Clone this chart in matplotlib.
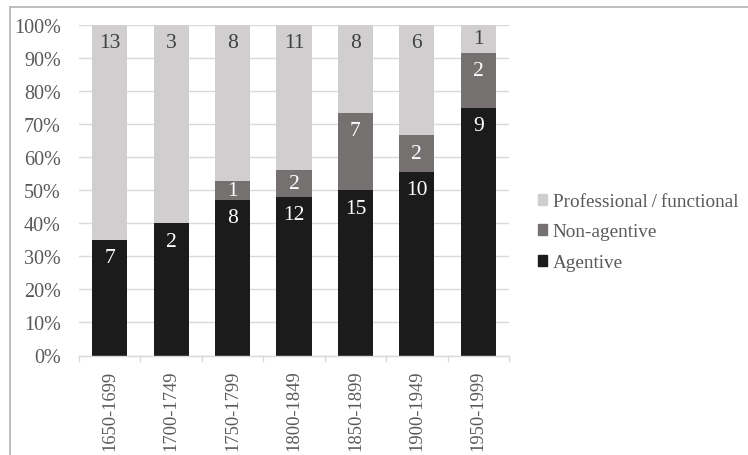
import matplotlib
matplotlib.use("Agg")
import matplotlib.pyplot as plt
import numpy as np
from matplotlib.patches import Rectangle
from matplotlib.lines import Line2D

plt.rcParams['font.family'] = ['Liberation Serif', 'DejaVu Serif']

periods = ["1650-1699", "1700-1749", "1750-1799", "1800-1849",
           "1850-1899", "1900-1949", "1950-1999"]
agentive = [7, 2, 8, 12, 15, 10, 9]
non_agentive = [0, 0, 1, 2, 7, 2, 2]
professional = [13, 3, 8, 11, 8, 6, 1]

series = [
    ("Agentive", agentive, "#1b1b1b", "white"),
    ("Non-agentive", non_agentive, "#767171", "white"),
    ("Professional\u2009/\u2009functional", professional, "#d0cece", "#404040"),
]

totals = np.array(agentive) + np.array(non_agentive) + np.array(professional)

fig = plt.figure(figsize=(7.48, 4.56), dpi=100)
ax = fig.add_axes([79 / 748, 1 - 356.5 / 456, 430 / 748, 330.5 / 456])

x = np.arange(len(periods))
bottom = np.zeros(len(periods))
handles = []
for name, vals, color, tcolor in series:
    share = np.array(vals) / totals
    ax.bar(x, share, bottom=bottom, width=0.57, color=color, zorder=2)
    for xi, v, s, b in zip(x, vals, share, bottom):
        if v > 0:
            # inside-end label, centred when the segment is too short
            ycen = b + s - min(0.054, s / 2)
            ax.text(xi, ycen, str(v), ha="center", va="center",
                    color=tcolor, fontsize=15.5, zorder=3)
    bottom = bottom + share
    handles.append(Rectangle((0, 0), 1, 1, color=color))

ax.set_xlim(-0.5, len(periods) - 0.5)
ax.set_ylim(0, 1.0)
ax.set_yticks(np.arange(0, 1.01, 0.1))
ax.set_yticklabels([f"{int(round(t * 100))}%" for t in np.arange(0, 1.01, 0.1)])
ax.yaxis.grid(True, color="#d9d9d9", linewidth=1, zorder=0)
ax.tick_params(axis="y", length=0, labelsize=14.5, labelcolor="#595959", pad=13)

ax.set_xticks(x)
ax.set_xticklabels(periods, rotation=90, fontsize=13.3, color="#595959")
ax.tick_params(axis="x", length=0, pad=10)
for b in np.arange(-0.5, len(periods), 1.0):
    ax.plot([b, b], [0, -0.016], color="#d9d9d9", lw=1, clip_on=False, zorder=1)

for s in ["top", "right", "left"]:
    ax.spines[s].set_visible(False)
ax.spines["bottom"].set_color("#d9d9d9")
ax.spines["bottom"].set_linewidth(1)

leg = fig.legend(handles[::-1], [s[0] for s in series][::-1],
                 loc="center left", bbox_to_anchor=(528 / 748, 1 - 233 / 456),
                 frameon=False, fontsize=13.8, handlelength=0.5, handleheight=0.5,
                 handletextpad=0.3, labelspacing=0.7, borderpad=0)
for t in leg.get_texts():
    t.set_color("#595959")

# chart frame (top and left edges)
fig.add_artist(Line2D([10 / 748, 1], [1 - 8 / 456, 1 - 8 / 456],
                      transform=fig.transFigure, color="#b4b4b4", lw=1.2))
fig.add_artist(Line2D([10 / 748, 10 / 748], [0, 1 - 8 / 456],
                      transform=fig.transFigure, color="#b4b4b4", lw=1.2))

fig.savefig("out.png", dpi=100, facecolor="white")
